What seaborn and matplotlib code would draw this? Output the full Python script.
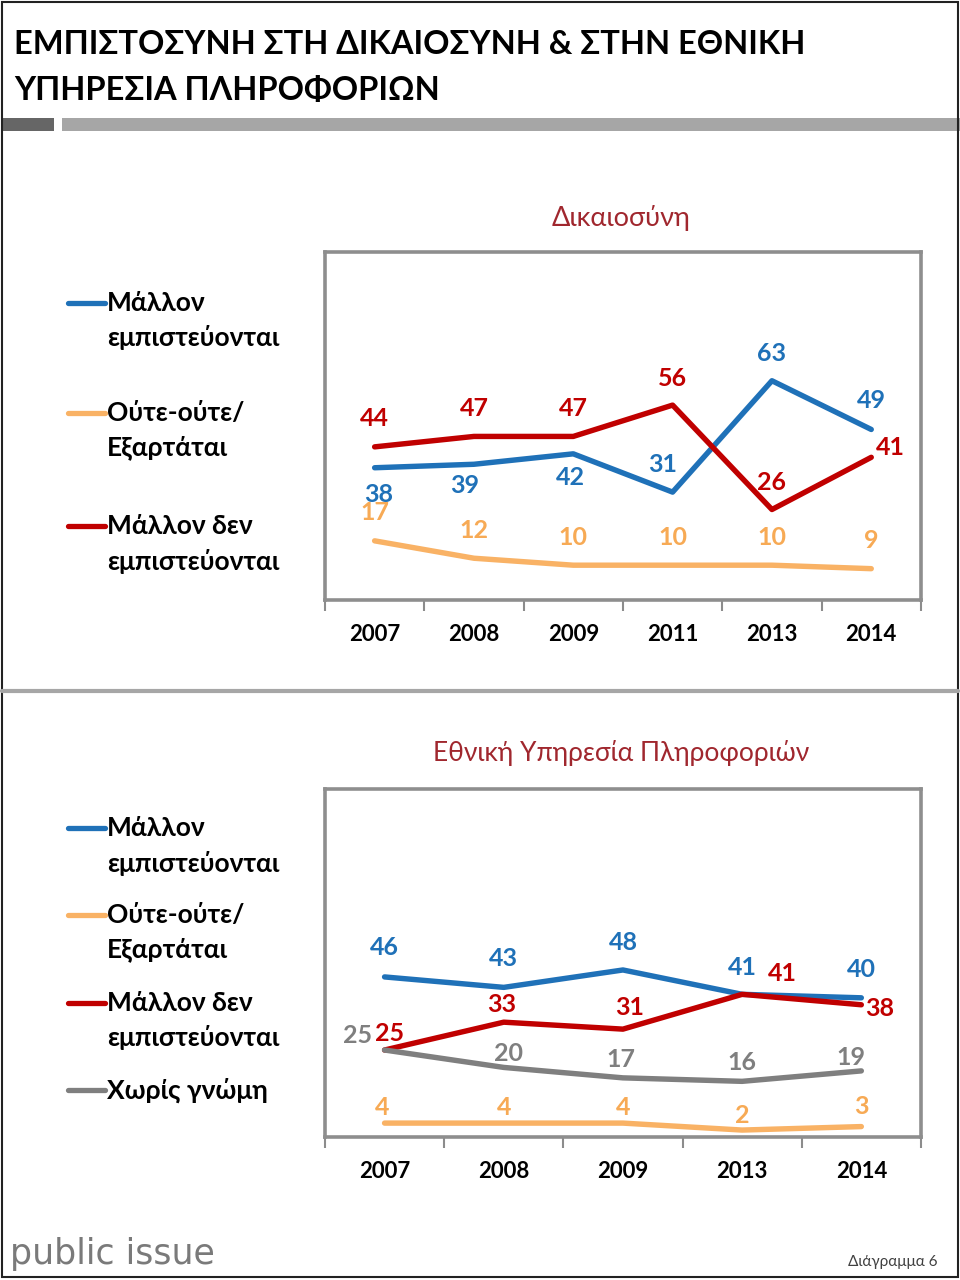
import pandas as pd
import seaborn as sns
import matplotlib
matplotlib.use('Agg')
import matplotlib.pyplot as plt
from matplotlib.lines import Line2D
from matplotlib.patches import Rectangle

# --- data ---
years_top = ['2007', '2008', '2009', '2011', '2013', '2014']
trust_top = [38, 39, 42, 31, 63, 49]
neutral_top = [17, 12, 10, 10, 10, 9]
distrust_top = [44, 47, 47, 56, 26, 41]

years_bot = ['2007', '2008', '2009', '2013', '2014']
trust_bot = [46, 43, 48, 41, 40]
neutral_bot = [4, 4, 4, 2, 3]
distrust_bot = [25, 33, 31, 41, 38]
noopinion_bot = [25, 20, 17, 16, 19]

lab_trust = 'Μάλλον εμπιστεύονται'
lab_neutral = 'Ούτε-ούτε/ Εξαρτάται'
lab_distrust = 'Μάλλον δεν εμπιστεύονται'
lab_noop = 'Χωρίς γνώμη'

BLUE = '#1F71B8'
ORANGE = '#F9B265'
RED = '#C00000'
GRAY = '#7F7F7F'
TITLE_RED = '#A0272E'
palette = {lab_trust: BLUE, lab_neutral: ORANGE, lab_distrust: RED, lab_noop: GRAY}

# label offsets in pixels (dx, dy) for each point
off_top = {
    lab_trust: [(4, -27), (-9, -21), (-3, -24), (-10, 28), (0, 27), (0, 29)],
    lab_neutral: [(0, 28)] * 6,
    lab_distrust: [(0, 28), (0, 28), (0, 28), (0, 27), (0, 27), (19, 10)],
}
off_bot = {
    lab_trust: [(0, 29), (0, 29), (0, 27), (0, 27), (0, 28)],
    lab_neutral: [(-2, 16), (0, 16), (0, 16), (0, 15), (0, 20)],
    lab_distrust: [(5, 17), (-2, 18), (7, 22), (40, 21), (18, -4)],
    lab_noop: [(-27, 15), (5, 14), (-2, 18), (0, 19), (-10, 13)],
}

sns.set_theme(style='white')
plt.rcParams['font.family'] = ['Lato', 'DejaVu Sans']

fig = plt.figure(figsize=(9.6, 12.8), dpi=100)


def long_df(years, series):
    rows = []
    for name, vals in series.items():
        for i, (y, v) in enumerate(zip(years, vals)):
            rows.append({'pos': i, 'year': y, 'value': v, 'series': name})
    return pd.DataFrame(rows)


def draw_panel(rect, years, series, offsets):
    ax = fig.add_axes(rect)
    df = long_df(years, series)
    sns.lineplot(data=df, x='pos', y='value', hue='series', palette=palette,
                 hue_order=list(series.keys()), linewidth=3.9, legend=False,
                 sort=False, ax=ax)
    for name, vals in series.items():
        c = palette[name]
        if name == lab_neutral:
            c = '#F7AA55'
        for i, v in enumerate(vals):
            dx, dy = offsets[name][i]
            ax.annotate(str(v), (i, v), xytext=(dx, dy), textcoords='offset pixels',
                        ha='center', va='center', fontsize=18, fontweight='bold',
                        color=c)
    n = len(years)
    ax.set_xlim(-0.5, n - 0.5)
    ax.set_ylim(0, 100)
    ax.set_yticks([])
    ax.set_xlabel('')
    ax.set_ylabel('')
    ax.set_xticks(range(n))
    ax.set_xticklabels(years, fontsize=16, fontweight='bold', color='black')
    ax.set_xticks([i - 0.5 for i in range(n + 1)], minor=True)
    ax.tick_params(axis='x', which='major', length=0, pad=17)
    ax.tick_params(axis='x', which='minor', length=8, width=1.5, color='#8c8c8c',
                   direction='out', bottom=True)
    for s in ax.spines.values():
        s.set_color('#8e8e8e')
        s.set_linewidth(2.6)
    ax.grid(False)
    return ax


# top panel
draw_panel([0.3385, 0.53125, 0.6208, 0.2719], years_top,
           {lab_trust: trust_top, lab_neutral: neutral_top, lab_distrust: distrust_top},
           off_top)
# bottom panel
draw_panel([0.3385, 0.1117, 0.6208, 0.2719], years_bot,
           {lab_trust: trust_bot, lab_neutral: neutral_bot, lab_distrust: distrust_bot,
            lab_noop: noopinion_bot},
           off_bot)


def px(x, y):
    return x / 960, 1 - y / 1280


# subtitles
fig.text(*px(621, 218), 'Δικαιοσύνη', ha='center', va='center', fontsize=19.5,
         color=TITLE_RED)
fig.text(*px(621, 753), 'Εθνική Υπηρεσία Πληροφοριών', ha='center', va='center',
         fontsize=19, color=TITLE_RED)

# legends
def legend_item(y_line, lines, color, dy=35):
    x0, y0 = px(68, y_line)
    x1, _ = px(105, y_line)
    fig.add_artist(Line2D([x0, x1], [y0, y0], color=color, lw=3.8,
                          solid_capstyle='round', transform=fig.transFigure))
    for k, t in enumerate(lines):
        fig.text(*px(107, y_line + k * dy), t, ha='left', va='center', fontsize=19,
                 fontweight='bold', color='black')

legend_item(303, ['Μάλλον', 'εμπιστεύονται'], BLUE)
legend_item(413, ['Ούτε-ούτε/', 'Εξαρτάται'], ORANGE)
legend_item(526, ['Μάλλον δεν', 'εμπιστεύονται'], RED)

legend_item(828, ['Μάλλον', 'εμπιστεύονται'], BLUE)
legend_item(915, ['Ούτε-ούτε/', 'Εξαρτάται'], ORANGE)
legend_item(1003, ['Μάλλον δεν', 'εμπιστεύονται'], RED)
legend_item(1090, ['Χωρίς γνώμη'], GRAY)

# title
fig.text(*px(14, 45), 'ΕΜΠΙΣΤΟΣΥΝΗ ΣΤΗ ΔΙΚΑΙΟΣΥΝΗ & ΣΤΗΝ ΕΘΝΙΚΗ', ha='left',
         va='center', fontsize=23.5, fontweight='bold', color='black')
fig.text(*px(14, 90), 'ΥΠΗΡΕΣΙΑ ΠΛΗΡΟΦΟΡΙΩΝ', ha='left', va='center', fontsize=23.5,
         fontweight='bold', color='black')

# header bars
fig.add_artist(Rectangle(px(2, 131), 52 / 960, 13 / 1280, transform=fig.transFigure,
                         facecolor='#666666', edgecolor='none'))
fig.add_artist(Rectangle(px(62, 131), 898 / 960, 13 / 1280, transform=fig.transFigure,
                         facecolor='#a6a6a6', edgecolor='none'))

# separator between panels
fig.add_artist(Line2D([2 / 960, 958 / 960], [1 - 691 / 1280] * 2, color='#a6a6a6',
                      lw=3, transform=fig.transFigure))

# outer border
fig.add_artist(Rectangle(px(2, 1277), 956 / 960, 1275 / 1280, transform=fig.transFigure,
                         facecolor='none', edgecolor='#222222', lw=1.5))

# footer
fig.text(*px(10, 1254), 'public issue', ha='left', va='center', fontsize=25,
         color='#7a7a7a', family=['DejaVu Sans'])
fig.text(*px(938, 1262), 'Διάγραμμα 6', ha='right', va='center', fontsize=11,
         color='#404040')

fig.savefig('out.png', dpi=100)
